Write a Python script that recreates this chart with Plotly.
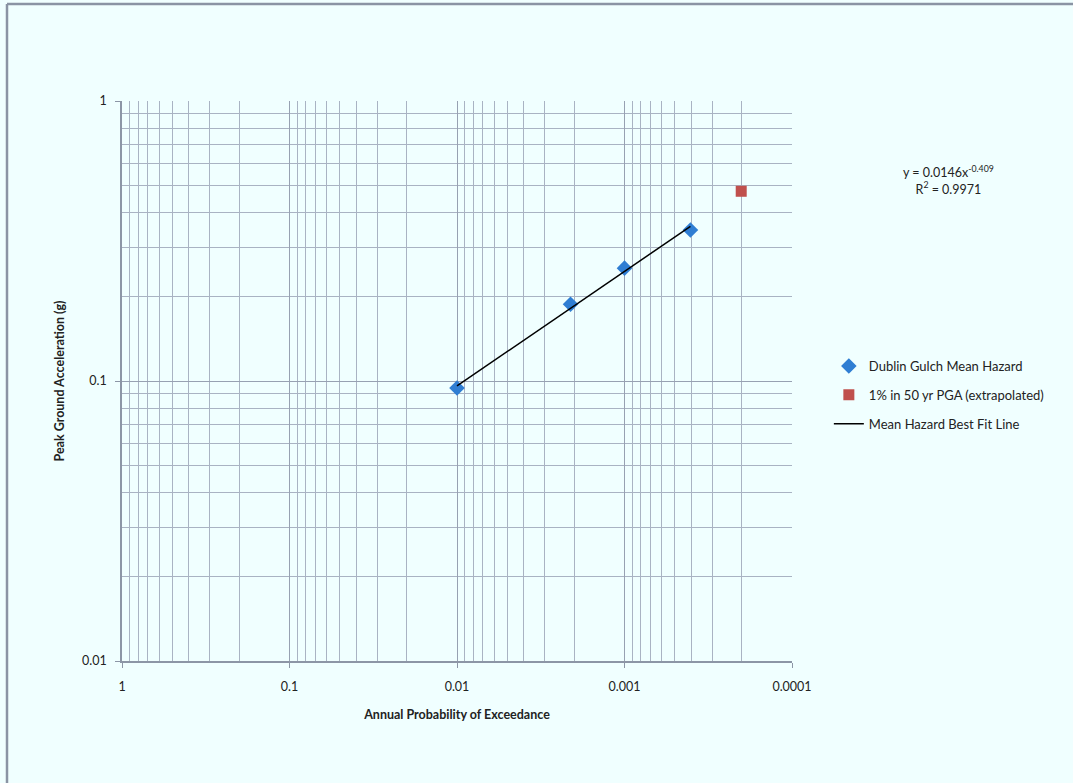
import plotly.graph_objects as go

# Data
hazard_x = [0.01, 0.0021, 0.001, 0.000404]
hazard_y = [0.0944, 0.188, 0.253, 0.346]
extrap_x = [0.000201]
extrap_y = [0.476]
fit_a = 0.0146
fit_b = -0.409
fit_x = [0.01, 0.000404]
fit_y = [fit_a * x ** fit_b for x in fit_x]

x_tickvals = [1, 0.1, 0.01, 0.001, 0.0001]
x_ticktext = ["1", "0.1", "0.01", "0.001", "0.0001"]
y_tickvals = [0.01, 0.1, 1]
y_ticktext = ["0.01", "0.1", "1"]

FONT = "Lato, 'Open Sans', sans-serif"
BG = "#F0FFFF"
GRID = "#A9B3C3"

fig = go.Figure()
fig.add_trace(go.Scatter(x=hazard_x, y=hazard_y, mode="markers",
                         name="Dublin Gulch Mean Hazard", legendgroup="a",
                         marker=dict(symbol="diamond", size=12, color="#2F7ED3")))
fig.add_trace(go.Scatter(x=extrap_x, y=extrap_y, mode="markers",
                         name="1% in 50 yr PGA (extrapolated)", legendgroup="b",
                         marker=dict(symbol="square", size=11, color="#C0504D")))
fig.add_trace(go.Scatter(x=fit_x, y=fit_y, mode="lines",
                         name="Mean Hazard Best Fit Line", legendgroup="c",
                         line=dict(color="black", width=1.5)))

fig.update_layout(
    width=1073, height=783,
    margin=dict(l=122, r=281, t=101, b=122),
    paper_bgcolor=BG, plot_bgcolor=BG,
    font=dict(family=FONT, size=12, color="#222"),
    showlegend=True,
    legend=dict(x=0.055 + 1, y=0.475, xanchor="left", yanchor="middle",
                bgcolor="rgba(0,0,0,0)", font=dict(size=13), tracegroupgap=9,
                traceorder="grouped", itemwidth=30),
    xaxis=dict(type="log", range=[0, -4], tickvals=x_tickvals, ticktext=x_ticktext,
               showgrid=True, gridcolor="#97A1B2", gridwidth=1.4,
               minor=dict(dtick="D1", showgrid=True, gridcolor=GRID, gridwidth=1.2, ticks=""),
               showline=True, linecolor="#8C96A6", linewidth=1.5,
               ticks="outside", ticklen=5, tickcolor="#8C96A6",
               ticklabelstandoff=8, tickfont=dict(size=12.5),
               title=dict(text="<b>Annual Probability of Exceedance</b>", font=dict(size=12.5), standoff=17),
               zeroline=False),
    yaxis=dict(type="log", range=[-2, 0], tickvals=y_tickvals, ticktext=y_ticktext,
               showgrid=True, gridcolor="#97A1B2", gridwidth=1.4,
               minor=dict(dtick="D1", showgrid=True, gridcolor=GRID, gridwidth=1.2, ticks=""),
               showline=True, linecolor="#8C96A6", linewidth=1.5,
               ticks="outside", ticklen=5, tickcolor="#8C96A6",
               ticklabelstandoff=6, tickfont=dict(size=12.5),
               title=dict(text="<b>Peak Ground Acceleration (g)</b>", font=dict(size=12.5), standoff=15),
               zeroline=False),
    annotations=[
        dict(xref="paper", yref="paper", x=(948 - 122) / 670, y=(661 - 180) / 560,
             xanchor="center", yanchor="middle",
             text="y = 0.0146x<sup>-0.409</sup><br>R<sup>2</sup> = 0.9971",
             showarrow=False, font=dict(size=12.5, color="#222"), align="center"),
    ],
    shapes=[
        dict(type="line", xref="paper", yref="paper",
             x0=(7 - 122) / 670, x1=(7 - 122) / 670, y0=-0.3, y1=(661 - 4) / 560,
             line=dict(color="#8A94A4", width=2.5)),
        dict(type="line", xref="paper", yref="paper",
             x0=(7 - 122) / 670, x1=1.5, y0=(661 - 4) / 560, y1=(661 - 4) / 560,
             line=dict(color="#8A94A4", width=2.5)),
    ],
)

fig.write_html("out.html", config={"displayModeBar": False},
               post_script="document.body.style.margin='0';document.body.style.background='#F0FFFF';")
